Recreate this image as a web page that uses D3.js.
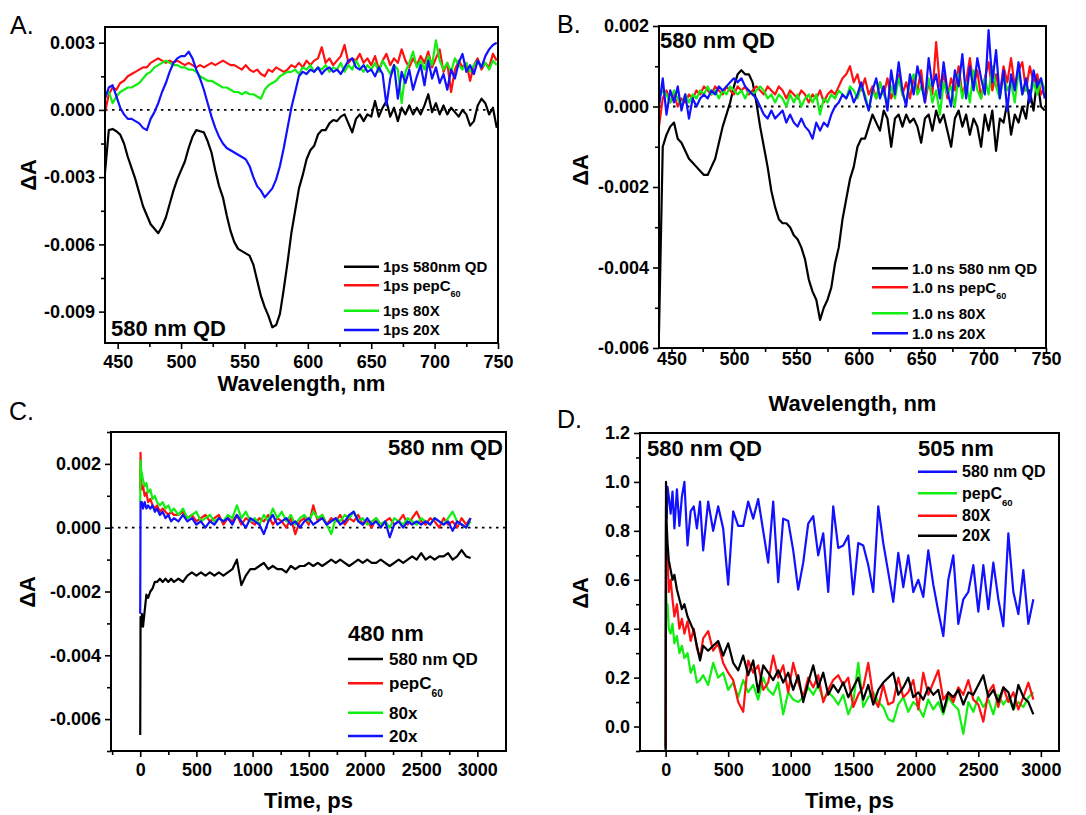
<!DOCTYPE html>
<html>
<head>
<meta charset="utf-8">
<script src="https://cdn.jsdelivr.net/npm/d3@7"></script>
<style>
  html, body { margin: 0; padding: 0; background: #fff; }
  svg { display: block; font-family: "Liberation Sans", Arial, Helvetica, sans-serif; }
</style>
</head>
<body>
<svg id="fig" width="1086" height="815"></svg>
<script>
// ---------- sampling grids ----------
// probe wavelength grid (nm) used by the spectra in panels A and B
const wavelengthNm = d3.range(440, 750, 3);
// delay-time grid (ps) used by the kinetic traces in panels C and D
const delayPs = [0, 3, 8, 15, 25, 40, 55, 70, 90, 110, 130, 150, 175, 200, 225, 250, 275, 300]
  .concat(d3.range(340, 2941, 40));

// ---------- panel A: spectra at 1 ps ----------
const specA_QD = [-0.0028,-0.0009,-0.00085,-0.00095,-0.0011,-0.0015,-0.0021,-0.0026,-0.0031,-0.0037,
  -0.0043,-0.0047,-0.0051,-0.0053,-0.0055,-0.0052,-0.0048,-0.0042,-0.0036,-0.0031,
  -0.0027,-0.0023,-0.0017,-0.0012,-0.0009,-0.00095,-0.001,-0.0014,-0.0019,-0.0027,
  -0.0034,-0.0039,-0.0047,-0.0054,-0.0059,-0.0062,-0.0063,-0.0064,-0.0065,-0.0069,
  -0.0076,-0.0083,-0.0088,-0.0092,-0.0097,-0.0096,-0.0091,-0.008,-0.0068,-0.0055,
  -0.0045,-0.0035,-0.0029,-0.0022,-0.0018,-0.0016,-0.0011,-0.0009,-0.0009,-0.0006,
  -0.00045,-0.0005,-0.0003,-0.0002,-0.0006,-0.001,-0.0004,-0.0002,-0.0005,-0.0002,
  -0.0003,0.0004,-0.0003,0.0001,0.0004,-0.0003,0.0001,-0.0005,0.0001,-0.0002,
  0.0002,-0.0002,0.0001,-0.0002,0.0002,0.0007,-0.0001,0.0003,-0.0002,0.0002,
  -0.0002,0.0001,-0.0001,-0.0003,0,-0.0002,-0.0007,-0.0005,0.0002,0.0005,
  0.0003,-0.0002,0.0001,-0.0008];
const specA_pep = [-0.0001,0.0007,0.001,0.0009,0.0012,0.0013,0.0015,0.0016,0.0017,0.0018,
  0.0019,0.0019,0.0021,0.0022,0.0023,0.0022,0.0021,0.0022,0.0021,0.0022,
  0.0021,0.002,0.0021,0.002,0.0019,0.002,0.0019,0.002,0.0021,0.002,
  0.0021,0.0022,0.0021,0.002,0.002,0.0019,0.0018,0.002,0.0018,0.0017,
  0.0018,0.0016,0.0015,0.0018,0.0017,0.0019,0.0018,0.0017,0.0018,0.002,
  0.0019,0.0021,0.0019,0.0022,0.002,0.0022,0.0023,0.0028,0.0021,0.0023,
  0.002,0.0022,0.0024,0.0029,0.0021,0.0023,0.0022,0.0025,0.0021,0.0023,
  0.002,0.0024,0.0018,0.0022,0.0025,0.002,0.0023,0.0021,0.0027,0.0022,
  0.0019,0.0023,0.002,0.0024,0.0021,0.0026,0.0019,0.0023,0.0027,0.0017,
  0.0021,0.0008,0.0018,0.0022,0.0019,0.0021,0.0013,0.002,0.0023,0.0018,
  0.0021,0.0019,0.0025,0.0022];
const specA_80X = [0.0007,0.0008,0.0003,0.0006,0.0008,0.0009,0.001,0.001,0.0011,0.0012,
  0.0014,0.0016,0.0017,0.0019,0.002,0.0021,0.0022,0.0021,0.002,0.002,
  0.0019,0.0019,0.0018,0.0018,0.0017,0.0015,0.0014,0.0013,0.0013,0.0012,
  0.0011,0.001,0.001,0.0009,0.0008,0.0008,0.0007,0.0008,0.0007,0.0007,
  0.0006,0.0005,0.0009,0.0011,0.0012,0.0013,0.0015,0.0016,0.0017,0.0017,
  0.0018,0.0016,0.0019,0.0018,0.002,0.0017,0.0019,0.0018,0.002,0.0017,
  0.0019,0.0018,0.0021,0.0017,0.002,0.0018,0.0022,0.0019,0.0017,0.002,
  0.0018,0.0021,0.0017,0.0022,0.0019,0.0016,0.002,0.0018,0.0003,0.0017,
  0.0021,0.0026,0.0019,0.0022,0.0018,0.0024,0.002,0.0031,0.0022,0.0018,
  0.0021,0.0017,0.0023,0.002,0.0018,0.0021,0.0017,0.002,0.0022,0.0019,
  0.0021,0.0018,0.0022,0.002];
const specA_20X = [0.0005,0.001,0.0011,0.0006,0.0001,-0.0002,-0.0004,-0.0004,-0.0005,-0.0006,
  -0.0008,-0.0009,-0.0004,-0.0001,0.0003,0.0008,0.0012,0.0017,0.0021,0.0023,
  0.0024,0.0024,0.0026,0.0023,0.0018,0.0014,0.0009,0.0003,-0.0003,-0.0008,
  -0.0012,-0.0015,-0.0017,-0.0018,-0.0019,-0.002,-0.0021,-0.0022,-0.0025,-0.003,
  -0.0034,-0.0036,-0.0039,-0.0037,-0.0035,-0.0031,-0.0025,-0.0017,-0.0008,0.0001,
  0.0008,0.0015,0.0017,0.0016,0.0018,0.0017,0.0019,0.0016,0.0018,0.0019,
  0.0017,0.0018,0.0016,0.0019,0.0022,0.0023,0.0019,0.0018,0.002,0.0017,
  0.0018,0.0015,0.0019,0.0016,0.0002,0.0014,0.002,0.0005,0.0017,0.0012,
  0.0018,0.0009,0.0015,0.002,0.0011,0.0022,0.0014,0.0019,0.0012,0.0016,
  0.0009,0.0018,0.0014,0.0021,0.0025,0.0017,0.002,0.0016,0.0022,0.0019,
  0.0024,0.0027,0.0029,0.003];

// ---------- panel B: spectra at 1.0 ns ----------
const specB_QD = [-0.0056,-0.001,-0.0007,-0.0005,-0.0004,-0.0008,-0.0009,-0.0011,-0.0013,-0.0014,
  -0.0015,-0.0016,-0.0017,-0.0017,-0.0015,-0.0013,-0.0009,-0.0005,-0.0002,0.0001,
  0.0005,0.0008,0.0009,0.0008,0.0008,0.0006,0.0001,-0.0005,-0.001,-0.0015,
  -0.0021,-0.0025,-0.0028,-0.0029,-0.0029,-0.003,-0.0032,-0.0033,-0.0035,-0.0038,
  -0.0043,-0.0046,-0.0048,-0.0053,-0.005,-0.0048,-0.0045,-0.0039,-0.0035,-0.0028,
  -0.0023,-0.0018,-0.0015,-0.001,-0.0008,-0.0008,-0.0005,-0.0002,-0.0004,-0.0006,
  -0.0001,-0.0003,-0.001,-0.0003,-0.0002,-0.0005,-0.0002,-0.0004,-0.0003,-0.0005,
  -0.0009,-0.0003,-0.0002,-0.0006,-0.0001,-0.0004,-0.0002,-0.0006,-0.001,-0.0003,
  -0.0001,-0.0005,-0.0002,-0.0007,-0.0003,-0.0005,-0.001,-0.0002,-0.0006,-0.0001,
  -0.0011,-0.0003,-0.0004,0.0001,-0.0007,-0.0002,-0.0004,0,-0.0003,0.0004,
  -0.0001,0.0007,0,-0.0001];
const specB_pep = [-0.0005,0.0002,0.0004,0.0001,0.0003,0,0.0002,0.0001,0.0003,0.0002,
  0.0004,0.0003,0.0005,0.0004,0.0003,0.0005,0.0004,0.0003,0.0005,0.0004,
  0.0003,0.0005,0.0004,0.0005,0.0003,0.0004,0.0005,0.0004,0.0003,0.0005,
  0.0004,0.0003,0.0005,0.0004,0.0002,0.0004,0.0003,0.0002,0.0004,0.0003,
  0.0001,0.0003,0.0002,0.0004,0.0001,0.0003,0.0004,0.0003,0.0005,0.0007,
  0.0008,0.001,0.0006,0.0008,0.0004,0.0007,0.0003,0.0005,0.0002,0.0006,
  0.0003,0.0007,0.0002,0.0005,0.0008,0.0003,0.0006,0.0002,0.0007,0.0004,
  0.0009,0.0001,0.0006,0.0003,0.0016,0.0005,0.0008,0.0002,0.0007,0.0004,
  0.001,0.0003,0.0006,0.0012,0.0005,0.0009,0.0002,0.0007,0.0011,0.0004,
  0.0008,0.0003,0.001,0.0006,0.0012,0.0005,0.0009,0.0011,0.0004,0.001,
  0.0006,0.0008,0.0003,0.0005];
const specB_80X = [0.0002,0.0004,0.0003,0.0001,0.0004,0.0002,0,0.0003,0.0001,0.0003,
  0.0002,0.0004,0.0003,0.0005,0.0003,0.0004,0.0002,0.0004,0.0003,0.0005,
  0.0004,0.0003,0.0004,0.0002,0.0004,0.0003,0.0004,0.0005,0.0004,0.0002,
  0.0003,0.0001,0.0003,0.0002,0,0.0003,0.0001,0.0003,0,0.0002,
  0.0003,0.0001,0.0003,-0.0002,0.0002,0.0001,0.0003,0.0002,0.0004,0.0003,
  0.0002,0.0005,0.0004,0.0002,0.0005,0.0003,-0.0001,0.0004,0.0002,0.0006,
  0.0003,0.0001,0.0005,0.0002,0.0007,0.0003,0.0001,0.0006,0.0008,0.0003,
  0.0005,0.0002,0.0007,0.0001,0.0004,-0.0002,0.0006,0.0003,0.0005,0,
  0.0008,0.0002,0.0006,0.0001,0.0009,0.0004,0.0002,0.0007,0.0003,0.001,
  0.0005,0.0002,0.0008,0.0004,0.0006,0.0001,0.0009,0.0003,0.0005,0.0002,
  0.0006,0.0003,0.0007,0.0004];
const specB_20X = [0,0.0007,-0.0002,0.0004,0.0001,0.0005,-0.0001,0.0003,-0.0003,0.0002,
  0,0.0002,0.0003,0.0002,0.0004,0.0003,0.0005,0.0004,0.0005,0.0006,
  0.0007,0.0006,0.0007,0.0005,0.0004,0.0003,0.0002,0,-0.0002,-0.0003,
  -0.0001,-0.0003,-0.0002,-0.0001,-0.0004,-0.0002,-0.0004,-0.0005,-0.0003,-0.0005,
  -0.0006,-0.0008,-0.0004,-0.0006,-0.0004,-0.0005,-0.0002,0,0.0001,0.0003,
  0.0002,0.0004,0.0001,0.0003,0.0006,0.0002,-0.0001,0.0004,0.0007,0.0002,
  0.0005,-0.0001,0.0009,0.0003,0.0011,0.0004,0,0.0008,0.0003,0.001,
  0.0006,0.0001,0.0012,0.0005,0.0008,0.0002,0.0011,0.0004,0,0.0009,
  0.0005,0.0013,0.0002,0.001,0.0004,0.0012,0.0007,0.0003,0.0019,0.0006,
  0.0014,0.0002,0.0009,-0.0001,0.0008,0.0004,0.0011,0.0003,0.0007,0.0001,
  0.0009,0.0005,0.0007,0.0002];

// ---------- panel C: kinetics probed at 480 nm ----------
const kinC_QD = [-0.0065,-0.0028,-0.0031,-0.0027,-0.0031,-0.0026,-0.0021,-0.0022,-0.002,-0.0019,
  -0.0017,-0.0017,-0.0016,-0.0017,-0.0016,-0.0017,-0.0016,-0.0017,
  -0.0016,-0.0017,-0.0015,-0.0014,-0.0015,-0.0014,-0.0015,-0.0014,-0.0015,-0.0014,
  -0.0015,-0.0014,-0.0013,-0.001,-0.0018,-0.0015,-0.0013,-0.0013,-0.0012,-0.0011,
  -0.0013,-0.0012,-0.0013,-0.0013,-0.0014,-0.0012,-0.0013,-0.0012,-0.0012,-0.0011,
  -0.0012,-0.0011,-0.0012,-0.0011,-0.001,-0.0011,-0.001,-0.0011,-0.0012,-0.0011,
  -0.001,-0.0011,-0.001,-0.0011,-0.0011,-0.001,-0.0011,-0.0012,-0.0011,-0.001,
  -0.0011,-0.001,-0.0009,-0.001,-0.0008,-0.001,-0.0009,-0.001,-0.0009,-0.0009,
  -0.0008,-0.001,-0.0009,-0.0007,-0.0009,-0.00095];
const kinC_pep = [0.0012,0.00235,0.0015,0.0012,0.0013,0.001,0.0011,0.0008,0.0009,0.0007,
  0.0006,0.0007,0.0005,0.0006,0.0005,0.0004,0.0005,0.0004,
  0.0004,0.0005,0.0003,0.0004,0.0002,0.0003,0.0004,0.0002,0.0003,0.0004,
  0.0001,0.0003,0.0002,0.0004,0.0001,0.0003,0.0002,0.0001,0.0003,0.0002,
  0.0004,0.0001,0.0003,0.0002,0,0.0003,-0.0002,0.0002,0.0003,0.0001,
  0.0007,0.0002,0.0004,0.0001,0.0003,0.0002,0.0004,0.0001,0.0003,0.0002,
  0.0004,0.0001,0.0002,0,0.0003,0.0001,0.0002,0.0003,0.0001,0.0002,
  0.0004,0.0001,0.0003,0.0005,0.0002,0.0001,0.0003,0.0002,0,0.0003,
  0.0001,0.0002,0,0.0003,0.0001,0.0003];
const kinC_80X = [0.0008,0.0021,0.0018,0.0017,0.0015,0.0013,0.0014,0.0011,0.0012,0.0009,
  0.001,0.0008,0.0007,0.0008,0.0006,0.0007,0.0005,0.0006,
  0.0004,0.0006,0.0003,0.0004,0.0005,0.0002,0.0003,0.0004,0.0002,0.0003,
  0.0002,0.0004,0.0003,0.0007,0.0003,0.0005,0.0002,0.0003,0.0001,0.0004,
  0.0002,0.0006,0.0003,0.0005,0.0002,0.0004,0.0001,0.0003,0.0004,0.0002,
  0.0005,0.0003,0.0004,0.0001,-0.0002,0.0003,0.0002,0.0004,0.0003,0.0005,
  0.0002,0.0003,0.0001,0.0002,0.0003,0.0001,0.0002,0,0.0003,0.0002,
  0.0001,0.0003,0.0002,0.0001,0.0003,0.0002,0.0001,0.0003,0.0002,0.0001,
  0.0003,0.0005,0.0002,0.0001,0,0.0002];
const kinC_20X = [-0.0027,0.0008,0.0007,0.0008,0.0006,0.0008,0.0006,0.0007,0.0006,0.0007,
  0.0005,0.0006,0.0004,0.0005,0.0003,0.0004,0.0002,0.0003,
  0.0002,0.0004,0.0002,0.0003,0.0001,0.0002,0,0.0002,0.0001,0.0003,
  0.0002,0.0003,0.0001,0.0004,0.0002,0,0.0003,0.0002,0.0001,-0.0002,
  0.0002,0.0004,0.0001,0.0002,0.0003,0.0001,0.0002,0,0.0002,0.0003,
  0.0001,0.0002,0.0003,0.0001,0.0002,0.0003,0.0001,0.0002,0.0004,0.0005,
  0.0002,0.0001,0.0003,0.0001,0.0002,0,0.0002,-0.0003,0.0001,0.0002,
  0,0.0002,0.0001,0.0002,0.0001,0.0002,0.0001,0.0003,0.0002,0.0001,
  0.0002,-0.0001,0.0002,0.0001,0,0.0003];

// ---------- panel D: normalised kinetics probed at 505 nm ----------
const kinD_QD = [-0.08,0.9,0.85,0.98,0.94,0.87,0.96,0.81,0.97,0.82,0.94,1.0,0.74,0.88,0.9,0.81,0.92,0.72,
  0.92,0.8,0.9,0.81,0.58,0.88,0.82,0.82,0.92,0.85,
  0.93,0.8,0.67,0.92,0.59,0.85,0.84,0.72,0.56,0.67,
  0.83,0.86,0.7,0.79,0.55,0.9,0.73,0.74,0.78,0.54,
  0.75,0.74,0.66,0.55,0.9,0.75,0.63,0.51,0.71,0.57,
  0.7,0.55,0.6,0.53,0.72,0.58,0.47,0.37,0.6,0.7,
  0.42,0.52,0.55,0.66,0.47,0.66,0.48,0.67,0.52,0.41,
  0.79,0.55,0.46,0.64,0.42,0.52];
const kinD_pep = [-0.09,0.57,0.48,0.5,0.4,0.38,0.42,0.34,0.37,0.3,0.33,0.28,0.3,0.22,0.25,0.18,0.19,0.21,
  0.17,0.26,0.2,0.22,0.15,0.18,0.12,0.19,0.14,0.17,
  0.11,0.2,0.15,0.13,0.18,0.05,0.14,0.11,0.1,0.12,
  0.16,0.13,0.17,0.11,0.14,0.12,0.09,0.13,0.05,0.1,
  0.26,0.08,0.12,0.14,0.1,0.08,0.03,0.02,0.09,0.12,
  0.06,0.1,0.08,0.04,0.11,0.07,0.1,0.05,0.12,0.09,
  0.07,-0.03,0.1,0.06,0.12,0.08,0.11,0.05,0.13,0.09,
  0.12,0.07,0.1,0.08,0.12,0.14];
const kinD_80X = [-0.09,0.84,0.62,0.7,0.55,0.6,0.52,0.45,0.5,0.4,0.44,0.38,0.43,0.35,0.4,0.32,0.28,0.36,
  0.39,0.31,0.34,0.26,0.22,0.19,0.1,0.06,0.27,0.22,
  0.25,0.15,0.18,0.29,0.2,0.25,0.14,0.26,0.18,0.12,
  0.2,0.16,0.21,0.1,0.15,0.19,0.21,0.17,0.2,0.08,
  0.13,0.16,0.26,0.12,0.08,0.17,0.09,0.1,0.2,0.12,
  0.14,0.19,0.07,0.22,0.13,0.18,0.23,0.11,0.14,0.1,
  0.16,0.13,0.19,0.11,0.09,0.02,0.14,0.17,0.08,0.16,
  0.1,0.14,0.07,0.12,0.18,0.11];
const kinD_20X = [-0.1,1.0,0.83,0.75,0.68,0.64,0.6,0.62,0.56,0.52,0.48,0.5,0.45,0.42,0.39,0.33,0.27,0.33,
  0.31,0.33,0.35,0.29,0.34,0.26,0.23,0.29,0.21,0.27,
  0.14,0.25,0.22,0.19,0.23,0.18,0.22,0.15,0.21,0.1,
  0.18,0.25,0.16,0.22,0.13,0.17,0.14,0.18,0.12,0.16,
  0.2,0.11,0.17,0.09,0.15,0.18,0.2,0.22,0.13,0.16,
  0.2,0.12,0.14,0.11,0.16,0.13,0.15,0.06,0.14,0.12,
  0.15,0.09,0.14,0.13,0.17,0.21,0.12,0.15,0.1,0.16,
  0.14,0.07,0.17,0.12,0.1,0.05];

// ---------- ticks ----------
const nmMajor = [450, 500, 550, 600, 650, 700, 750];
const nmMinor = [475, 525, 575, 625, 675, 725];
const psMajor = [0, 500, 1000, 1500, 2000, 2500, 3000];
const psMinorC = [-250, 250, 750, 1250, 1750, 2250, 2750];
const psMinorD = [250, 750, 1250, 1750, 2250, 2750];
const yMajorA = [-0.009, -0.006, -0.003, 0, 0.003];
const yMinorA = [-0.0075, -0.0045, -0.0015, 0.0015];
const yMajorB = [-0.006, -0.004, -0.002, 0, 0.002];
const yMinorB = [-0.005, -0.003, -0.001, 0.001];
const yMajorC = [-0.006, -0.004, -0.002, 0, 0.002];
const yMinorC = [-0.007, -0.005, -0.003, -0.001, 0.001, 0.003];
const yMajorD = [0, 0.2, 0.4, 0.6, 0.8, 1.0, 1.2];
const yMinorD = [-0.1, 0.1, 0.3, 0.5, 0.7, 0.9, 1.1];

// ---------- legend labels ("|" separates the subscript) ----------
const legendA = ["1ps 580nm QD", "1ps pepC|60", "1ps 80X", "1ps 20X"];
const legendB = ["1.0 ns 580 nm QD", "1.0 ns pepC|60", "1.0 ns 80X", "1.0 ns 20X"];
const legendC = ["580 nm QD", "pepC|60", "80x", "20x"];
const legendD = ["580 nm QD", "pepC|60", "80X", "20X"];

const COL = { black: "#000000", red: "#ff1111", green: "#11ee11", blue: "#1111ff" };

const svg = d3.select("#fig");
const defs = svg.append("defs");
const noMinus = f => v => f(v).replace("\u2212", "-");
const fmt3 = noMinus(d3.format(".3f"));
const fmt1 = noMinus(d3.format(".1f"));

function drawPanel(cfg) {
  const b = cfg.box;
  const x = d3.scaleLinear().domain(cfg.xDomain).range([b.x0, b.x1]);
  const y = d3.scaleLinear().domain(cfg.yDomain).range([b.y1, b.y0]);
  const g = svg.append("g");

  defs.append("clipPath").attr("id", "clip" + cfg.name)
    .append("rect").attr("x", b.x0).attr("y", b.y0)
    .attr("width", b.x1 - b.x0).attr("height", b.y1 - b.y0);

  const styleAxis = sel => {
    sel.attr("font-size", null).attr("font-family", null);
    sel.select(".domain").remove();
    sel.selectAll(".tick line").attr("stroke", "#000").attr("stroke-width", 1.6);
    sel.selectAll(".tick text").attr("fill", "#000")
      .attr("font-size", 18).attr("font-weight", "bold");
  };

  // bottom axis: minor then major ticks with labels
  g.append("g").attr("transform", `translate(0,${b.y1})`)
    .call(d3.axisBottom(x).tickValues(cfg.xMinor).tickSize(4).tickFormat(""))
    .call(styleAxis);
  g.append("g").attr("transform", `translate(0,${b.y1})`)
    .call(d3.axisBottom(x).tickValues(cfg.xMajor).tickSize(6)
      .tickPadding(cfg.xPad).tickFormat(d3.format("d")))
    .call(styleAxis);

  // left axis
  g.append("g").attr("transform", `translate(${b.x0},0)`)
    .call(d3.axisLeft(y).tickValues(cfg.yMinor).tickSize(4).tickFormat(""))
    .call(styleAxis);
  g.append("g").attr("transform", `translate(${b.x0},0)`)
    .call(d3.axisLeft(y).tickValues(cfg.yMajor).tickSize(6)
      .tickPadding(4).tickFormat(cfg.yFormat))
    .call(styleAxis);

  // dotted zero line
  if (cfg.zeroLine) {
    g.append("line")
      .attr("x1", b.x0).attr("x2", b.x1).attr("y1", y(0)).attr("y2", y(0))
      .attr("stroke", "#000").attr("stroke-width", 1.8)
      .attr("stroke-dasharray", "2.5,4.5");
  }

  // data traces
  const traces = g.append("g").attr("clip-path", `url(#clip${cfg.name})`);
  cfg.series.forEach(s => {
    const line = d3.line()
      .x((d, i) => x(cfg.xs[i]))
      .y(d => y(d));
    traces.append("path")
      .datum(s.values)
      .attr("d", line)
      .attr("fill", "none")
      .attr("stroke", COL[s.color])
      .attr("stroke-width", 2.2)
      .attr("stroke-linejoin", "round");
  });

  // frame
  g.append("rect")
    .attr("x", b.x0).attr("y", b.y0)
    .attr("width", b.x1 - b.x0).attr("height", b.y1 - b.y0)
    .attr("fill", "none").attr("stroke", "#000").attr("stroke-width", 2);

  // axis titles
  g.append("text")
    .attr("x", (b.x0 + b.x1) / 2).attr("y", cfg.xTitleY)
    .attr("text-anchor", "middle").attr("font-size", 22).attr("font-weight", "bold")
    .text(cfg.xTitle);
  g.append("text")
    .attr("transform", `translate(${cfg.yTitleX},${cfg.yTitleY}) rotate(-90)`)
    .attr("text-anchor", "middle").attr("font-size", 22).attr("font-weight", "bold")
    .text("\u0394A");

  // panel letter
  g.append("text")
    .attr("x", cfg.letter.x).attr("y", cfg.letter.y)
    .attr("font-size", 25)
    .text(cfg.name + ".");

  // free-standing annotations
  cfg.notes.forEach(n => {
    g.append("text")
      .attr("x", n.x).attr("y", n.y)
      .attr("text-anchor", n.anchor || "start")
      .attr("font-size", 22).attr("font-weight", "bold")
      .text(n.text);
  });

  // legend
  const L = cfg.legend;
  cfg.series.forEach(s => {
    const row = L.rows[s.legendRow];
    g.append("line")
      .attr("x1", L.x0).attr("x2", L.x1).attr("y1", row).attr("y2", row)
      .attr("stroke", COL[s.color]).attr("stroke-width", 2.5);
    const [main, sub] = L.labels[s.legendRow].split("|");
    const t = g.append("text")
      .attr("x", L.tx).attr("y", row + L.size * 0.36)
      .attr("font-size", L.size).attr("font-weight", "bold")
      .text(main);
    if (sub) {
      t.append("tspan").attr("font-size", L.size * 0.6).attr("dy", L.size * 0.42).text(sub);
    }
  });
}

drawPanel({
  name: "A",
  box: { x0: 105, x1: 498, y0: 27, y1: 343 },
  xDomain: [440, 750], yDomain: [-0.0104, 0.0037],
  xMajor: nmMajor, xMinor: nmMinor, yMajor: yMajorA, yMinor: yMinorA,
  yFormat: fmt3, xPad: 6, zeroLine: true,
  xTitle: "Wavelength, nm", xTitleY: 391, yTitleX: 36, yTitleY: 175,
  letter: { x: 10, y: 34 },
  notes: [{ text: "580 nm QD", x: 111, y: 336 }],
  xs: wavelengthNm,
  series: [
    { values: specA_QD, color: "black", legendRow: 0 },
    { values: specA_pep, color: "red", legendRow: 1 },
    { values: specA_80X, color: "green", legendRow: 2 },
    { values: specA_20X, color: "blue", legendRow: 3 }
  ],
  legend: { x0: 344, x1: 379, tx: 383, size: 15, rows: [266.7, 285.3, 310.7, 330], labels: legendA }
});

drawPanel({
  name: "B",
  box: { x0: 659, x1: 1046, y0: 26, y1: 348 },
  xDomain: [440, 750], yDomain: [-0.006, 0.002],
  xMajor: nmMajor, xMinor: nmMinor, yMajor: yMajorB, yMinor: yMinorB,
  yFormat: fmt3, xPad: -2, zeroLine: true,
  xTitle: "Wavelength, nm", xTitleY: 411, yTitleX: 588, yTitleY: 170,
  letter: { x: 557, y: 33 },
  notes: [{ text: "580 nm QD", x: 660, y: 48 }],
  xs: wavelengthNm,
  series: [
    { values: specB_QD, color: "black", legendRow: 0 },
    { values: specB_pep, color: "red", legendRow: 1 },
    { values: specB_80X, color: "green", legendRow: 2 },
    { values: specB_20X, color: "blue", legendRow: 3 }
  ],
  legend: { x0: 872, x1: 908, tx: 912, size: 15, rows: [268.3, 287.3, 313.3, 333.3], labels: legendB }
});

drawPanel({
  name: "C",
  box: { x0: 111, x1: 506, y0: 432, y1: 751 },
  xDomain: [-260, 3255], yDomain: [-0.007, 0.003],
  xMajor: psMajor, xMinor: psMinorC, yMajor: yMajorC, yMinor: yMinorC,
  yFormat: fmt3, xPad: 6, zeroLine: true,
  xTitle: "Time, ps", xTitleY: 808, yTitleX: 35, yTitleY: 592,
  letter: { x: 9, y: 420 },
  notes: [{ text: "580 nm QD", x: 503, y: 455, anchor: "end" },
          { text: "480 nm", x: 348, y: 641 }],
  xs: delayPs,
  series: [
    { values: kinC_QD, color: "black", legendRow: 0 },
    { values: kinC_pep, color: "red", legendRow: 1 },
    { values: kinC_80X, color: "green", legendRow: 2 },
    { values: kinC_20X, color: "blue", legendRow: 3 }
  ],
  legend: { x0: 348, x1: 383, tx: 389, size: 17, rows: [659, 683.3, 712.7, 736], labels: legendC }
});

drawPanel({
  name: "D",
  box: { x0: 640, x1: 1059, y0: 433, y1: 751 },
  xDomain: [-205, 3145], yDomain: [-0.1, 1.2],
  xMajor: psMajor, xMinor: psMinorD, yMajor: yMajorD, yMinor: yMinorD,
  yFormat: fmt1, xPad: 6, zeroLine: false,
  xTitle: "Time, ps", xTitleY: 808, yTitleX: 588, yTitleY: 593,
  letter: { x: 557, y: 428 },
  notes: [{ text: "580 nm QD", x: 647, y: 456 },
          { text: "505 nm", x: 918, y: 456 }],
  xs: delayPs,
  series: [
    { values: kinD_QD, color: "blue", legendRow: 0 },
    { values: kinD_pep, color: "green", legendRow: 1 },
    { values: kinD_80X, color: "red", legendRow: 2 },
    { values: kinD_20X, color: "black", legendRow: 3 }
  ],
  legend: { x0: 918, x1: 957, tx: 962, size: 16, rows: [471.7, 493.3, 515.7, 535.7], labels: legendD }
});
</script>
</body>
</html>
